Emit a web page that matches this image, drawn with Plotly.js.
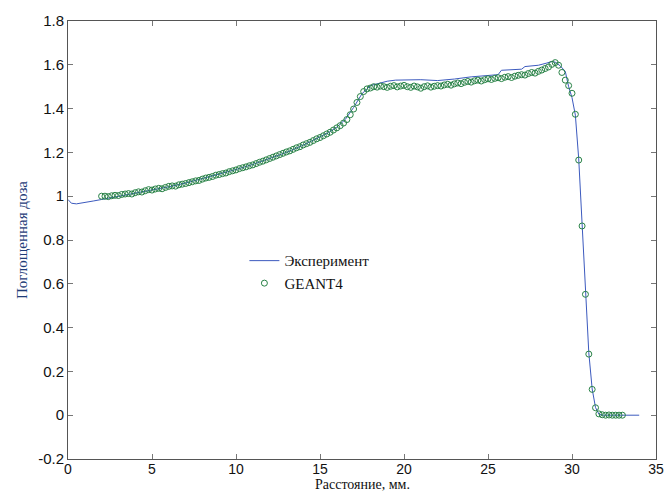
<!DOCTYPE html>
<html>
<head>
<meta charset="utf-8">
<script src="https://cdn.plot.ly/plotly-3.0.1.min.js"></script>
<style>html,body{margin:0;padding:0;background:#fff;}#chart{width:664px;height:494px;}</style>
</head>
<body>
<div id="chart"></div>
<script>
// Experiment (line)
var expX = [0, 0.2, 0.5, 1.0, 1.5, 2.0, 2.5, 3, 4, 5, 6, 7, 8, 9, 10, 11, 12, 13, 14, 15,
  15.5, 16, 16.5, 17, 17.5, 18, 18.5, 19, 19.5, 20, 21, 22, 22.5, 23, 24, 25,
  25.6, 25.8, 26.5, 27.0, 27.2, 28, 28.5, 28.8, 29.0, 29.3, 29.6, 29.8, 30.0, 30.2,
  30.4, 30.6, 30.8, 31.0, 31.2, 31.4, 31.6, 31.8, 32, 34];
var expY = [0.985, 0.968, 0.965, 0.970, 0.978, 0.985, 0.992, 1.000, 1.013, 1.027, 1.043, 1.060, 1.080, 1.100, 1.122, 1.145, 1.172, 1.200, 1.233, 1.270,
  1.290, 1.315, 1.350, 1.405, 1.468, 1.505, 1.515, 1.525, 1.530, 1.530, 1.532, 1.528, 1.530, 1.535, 1.545, 1.550,
  1.555, 1.575, 1.578, 1.580, 1.592, 1.598, 1.608, 1.615, 1.612, 1.595, 1.570, 1.500, 1.450, 1.370,
  1.170, 0.870, 0.560, 0.285, 0.120, 0.035, 0.005, 0.0, 0.0, 0.0];

// GEANT4 (open circles)
var geantX = [2.0, 2.2, 2.4, 2.6, 2.8, 3.0, 3.2, 3.4, 3.6, 3.8, 4.0, 4.2, 4.4, 4.6, 4.8,
  5.0, 5.2, 5.4, 5.6, 5.8, 6.0, 6.2, 6.4, 6.6, 6.8, 7.0, 7.2, 7.4, 7.6, 7.8,
  8.0, 8.2, 8.4, 8.6, 8.8, 9.0, 9.2, 9.4, 9.6, 9.8, 10.0, 10.2, 10.4, 10.6, 10.8,
  11.0, 11.2, 11.4, 11.6, 11.8, 12.0, 12.2, 12.4, 12.6, 12.8, 13.0, 13.2, 13.4, 13.6, 13.8,
  14.0, 14.2, 14.4, 14.6, 14.8, 15.0, 15.2, 15.4, 15.6, 15.8, 16.0, 16.2, 16.4, 16.6, 16.8,
  17.0, 17.2, 17.4, 17.6, 17.8, 18.0, 18.2, 18.4, 18.6, 18.8, 19.0, 19.2, 19.4, 19.6, 19.8,
  20.0, 20.2, 20.4, 20.6, 20.8, 21.0, 21.2, 21.4, 21.6, 21.8, 22.0, 22.2, 22.4, 22.6, 22.8,
  23.0, 23.2, 23.4, 23.6, 23.8, 24.0, 24.2, 24.4, 24.6, 24.8, 25.0, 25.2, 25.4, 25.6, 25.8,
  26.0, 26.2, 26.4, 26.6, 26.8, 27.0, 27.2, 27.4, 27.6, 27.8, 28.0, 28.2, 28.4, 28.6, 28.8,
  29.0, 29.2, 29.4, 29.6, 29.8, 30.0, 30.2, 30.4, 30.6, 30.8, 31.0, 31.2, 31.4, 31.6, 31.8,
  32.0, 32.2, 32.4, 32.6, 32.8, 33.0];
var geantY = [1.000, 1.000, 0.998, 1.002, 1.004, 1.003, 1.008, 1.010, 1.012, 1.010, 1.016, 1.020, 1.019, 1.025, 1.030,
  1.028, 1.033, 1.036, 1.034, 1.040, 1.045, 1.047, 1.046, 1.052, 1.055, 1.058, 1.062, 1.066, 1.070, 1.072,
  1.078, 1.083, 1.086, 1.090, 1.096, 1.099, 1.103, 1.106, 1.112, 1.116, 1.120, 1.126, 1.130, 1.134, 1.139,
  1.143, 1.149, 1.155, 1.160, 1.166, 1.172, 1.178, 1.184, 1.190, 1.196, 1.202, 1.207, 1.214, 1.221, 1.226,
  1.234, 1.240, 1.246, 1.254, 1.262, 1.268, 1.276, 1.284, 1.292, 1.302, 1.312, 1.322, 1.334, 1.350, 1.372,
  1.398, 1.428, 1.455, 1.478, 1.490, 1.494, 1.500, 1.498, 1.503, 1.500, 1.497, 1.502, 1.505, 1.499, 1.503,
  1.506, 1.500, 1.497, 1.503, 1.499, 1.493, 1.500, 1.504, 1.498, 1.502, 1.505, 1.503, 1.508, 1.511, 1.507,
  1.513, 1.517, 1.514, 1.520, 1.524, 1.521, 1.527, 1.530, 1.526, 1.532, 1.536, 1.533, 1.538, 1.541, 1.537,
  1.543, 1.546, 1.542, 1.548, 1.552, 1.555, 1.553, 1.560, 1.565, 1.562, 1.570, 1.576, 1.583, 1.590, 1.602,
  1.610, 1.598, 1.565, 1.530, 1.505, 1.470, 1.374, 1.165, 0.864, 0.552, 0.279, 0.118, 0.034, 0.006, 0.002,
  0.000, 0.001, 0.000, 0.000, 0.000, 0.000];

var xTicks = [0, 5, 10, 15, 20, 25, 30, 35];
var yTicks = [-0.2, 0, 0.2, 0.4, 0.6, 0.8, 1, 1.2, 1.4, 1.6, 1.8];
var seriesNames = ['Эксперимент', 'GEANT4'];
var xTitle = 'Расстояние, мм.';
var yTitle = 'Поглощенная доза';

var traces = [
  {x: expX, y: expY, name: seriesNames[0], type: 'scatter', mode: 'lines',
   line: {color: 'rgb(60,90,190)', width: 1}},
  {x: geantX, y: geantY, name: seriesNames[1], type: 'scatter', mode: 'markers',
   marker: {symbol: 'circle-open', size: 6, color: 'rgb(40,130,70)', line: {width: 1, color: 'rgb(40,130,70)'}}}
];

var axisCommon = {
  showgrid: false, zeroline: false, showline: true, linecolor: '#555', linewidth: 1,
  mirror: 'ticks', ticks: 'inside', ticklen: 5, tickcolor: '#777',
  tickfont: {family: 'Liberation Sans, Arial, sans-serif', size: 15, color: '#111'}
};

var layout = {
  width: 664, height: 494,
  margin: {l: 68, r: 8, t: 21, b: 35},
  paper_bgcolor: '#fff', plot_bgcolor: '#fff',
  showlegend: true,
  legend: {x: 0.30, y: 0.49, xanchor: 'left', yanchor: 'top', bgcolor: 'rgba(0,0,0,0)',
           font: {family: 'Liberation Serif, Times New Roman, serif', size: 15, color: '#111'},
           itemwidth: 30, tracegroupgap: 0},
  xaxis: Object.assign({}, axisCommon, {
    range: [0, 35], tickvals: xTicks, ticktext: xTicks.map(String),
    ticklabelstandoff: -3,
    tickfont: {family: 'Liberation Sans, Arial, sans-serif', size: 14, color: '#111'}
  }),
  yaxis: Object.assign({}, axisCommon, {
    range: [-0.2, 1.8], tickvals: yTicks, ticktext: yTicks.map(String),
    title: {text: yTitle, standoff: 6,
            font: {family: 'Liberation Serif, Times New Roman, serif', size: 15, color: '#1e3c78'}}
  }),
  annotations: [{
    text: xTitle, xref: 'paper', yref: 'paper', x: 0.5, y: -0.0776,
    xanchor: 'center', yanchor: 'bottom', showarrow: false, borderpad: 0,
    font: {family: 'Liberation Serif, Times New Roman, serif', size: 14, color: '#111'}
  }]
};

Plotly.newPlot('chart', traces, layout, {displayModeBar: false, staticPlot: true});
</script>
</body>
</html>
